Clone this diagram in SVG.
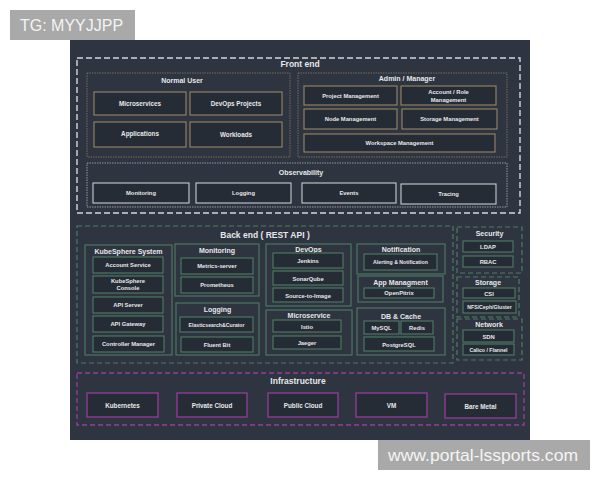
<svg xmlns="http://www.w3.org/2000/svg" width="600" height="480" viewBox="0 0 600 480">
<style>
text{font-family:"Liberation Sans",Arial,sans-serif;font-weight:bold;fill:#e6e8ea;text-anchor:middle}
.t1{font-size:8.5px}
.t2{font-size:7px}
.ti{font-size:6.3px}
.tb{font-size:5.8px}
.ts{font-size:5.2px}
.fe{fill:none;stroke:#d5d8dc;stroke-width:1.4;stroke-dasharray:6 3}
.dotT{fill:none;stroke:#8a7a62;stroke-width:0.8;stroke-dasharray:1.5 1}
.dotW{fill:none;stroke:#aeb2b8;stroke-width:0.8;stroke-dasharray:1.5 1}
.itT{fill:#262c36;stroke:#9a8667;stroke-width:1.1}
.itW{fill:#262c36;stroke:#c9ccd0;stroke-width:1.1}
.be{fill:none;stroke:#4f7d63;stroke-width:1.2;stroke-dasharray:5 3}
.grp{fill:none;stroke:#4f7d63;stroke-width:1.1}
.itG{fill:#262c36;stroke:#4f7d63;stroke-width:1.1}
.inf{fill:none;stroke:#963c9c;stroke-width:1.3;stroke-dasharray:5 3}
.itP{fill:#262c36;stroke:#963c9c;stroke-width:1.3}
.wm{fill:#a9a9a9}
.wmt{font-family:"Liberation Sans",Arial,sans-serif;font-weight:normal;fill:#f4f4f4;text-anchor:start}
</style>
<rect x="0" y="0" width="600" height="480" fill="#ffffff"/>
<rect x="70" y="40" width="460" height="400" fill="#2e3440"/>

<g id="frontend">
<rect class="fe" x="77" y="58" width="443" height="155"/>
<text class="t1" x="300" y="67">Front end</text>
</g>
<g id="normal-user">
<rect class="dotT" x="87" y="73" width="203" height="84"/>
<text class="t2" x="182" y="83">Normal User</text>
<g id="n-microservices"><rect class="itT" x="94" y="92" width="92" height="23"/><text class="ti" x="140" y="105.5">Microservices</text></g>
<g id="n-devops-projects"><rect class="itT" x="190" y="92" width="92" height="23"/><text class="ti" x="236" y="105.5">DevOps Projects</text></g>
<g id="n-applications"><rect class="itT" x="94" y="122" width="92" height="25"/><text class="ti" x="140" y="136">Applications</text></g>
<g id="n-workloads"><rect class="itT" x="190" y="122" width="92" height="25"/><text class="ti" x="236" y="137">Workloads</text></g>
</g>
<g id="admin-manager">
<rect class="dotT" x="298" y="73" width="209" height="84"/>
<text class="t2" x="407" y="81">Admin / Manager</text>
<g id="n-project-mgmt"><rect class="itT" x="304" y="86" width="93" height="19"/><text class="tb" x="350.5" y="97.5">Project Management</text></g>
<g id="n-account-role"><rect class="itT" x="401" y="86" width="95" height="19"/><text class="tb" x="448.5" y="93.5">Account / Role</text><text class="tb" x="448.5" y="101.5">Management</text></g>
<g id="n-node-mgmt"><rect class="itT" x="304" y="109" width="93" height="20"/><text class="tb" x="350.5" y="121">Node Management</text></g>
<g id="n-storage-mgmt"><rect class="itT" x="402" y="109" width="95" height="20"/><text class="tb" x="449.5" y="121">Storage Management</text></g>
<g id="n-workspace-mgmt"><rect class="itT" x="304" y="134" width="191" height="18"/><text class="tb" x="399.5" y="145">Workspace Management</text></g>
</g>
<g id="observability">
<rect class="dotW" x="87" y="163" width="420" height="44"/>
<text class="t2" x="301" y="175">Observability</text>
<g id="o-monitoring"><rect class="itW" x="93" y="183" width="96" height="20"/><text class="tb" x="141" y="195">Monitoring</text></g>
<g id="o-logging"><rect class="itW" x="196" y="183" width="95" height="20"/><text class="tb" x="243.5" y="195">Logging</text></g>
<g id="o-events"><rect class="itW" x="302" y="183" width="94" height="20"/><text class="tb" x="349" y="195">Events</text></g>
<g id="o-tracing"><rect class="itW" x="401" y="184" width="95" height="20"/><text class="tb" x="448.5" y="196">Tracing</text></g>
</g>

<g id="backend">
<rect class="be" x="77" y="226" width="376" height="137"/>
<text class="t1" x="265" y="238">Back end ( REST API )</text>
</g>
<g id="kubesphere-system">
<rect class="grp" x="85" y="245" width="87" height="110"/>
<text class="t2" x="128.5" y="254">KubeSphere System</text>
<g id="k-account"><rect class="itG" x="93" y="257" width="70" height="16"/><text class="tb" x="128" y="267">Account Service</text></g>
<g id="k-console"><rect class="itG" x="93" y="276" width="70" height="17"/><text class="tb" x="128" y="283">KubeSphere</text><text class="tb" x="128" y="290">Console</text></g>
<g id="k-apiserver"><rect class="itG" x="93" y="297" width="70" height="16"/><text class="tb" x="128" y="307">API Server</text></g>
<g id="k-apigateway"><rect class="itG" x="93" y="316" width="70" height="16"/><text class="tb" x="128" y="326">API Gateway</text></g>
<g id="k-controller"><rect class="itG" x="93" y="336" width="71" height="16"/><text class="tb" x="128.5" y="346">Controller Manager</text></g>
</g>
<g id="monitoring">
<rect class="grp" x="175" y="244" width="84" height="52"/>
<text class="t2" x="217" y="253">Monitoring</text>
<g id="m-metrics"><rect class="itG" x="181" y="258" width="72" height="16"/><text class="tb" x="217" y="268">Metrics-server</text></g>
<g id="m-prometheus"><rect class="itG" x="181" y="277" width="72" height="16"/><text class="tb" x="217" y="287">Prometheus</text></g>
</g>
<g id="logging">
<rect class="grp" x="176" y="303" width="83" height="52"/>
<text class="t2" x="217.5" y="312">Logging</text>
<g id="l-es"><rect class="itG" x="180" y="317" width="73" height="15"/><text class="ts" x="216.5" y="326.5">Elasticsearch&amp;Curator</text></g>
<g id="l-fluentbit"><rect class="itG" x="181" y="337" width="72" height="15"/><text class="tb" x="217" y="347">Fluent Bit</text></g>
</g>
<g id="devops">
<rect class="grp" x="266" y="244" width="85" height="62"/>
<text class="t2" x="308.5" y="251.5">DevOps</text>
<g id="d-jenkins"><rect class="itG" x="273" y="253" width="70" height="15"/><text class="tb" x="308" y="263">Jenkins</text></g>
<g id="d-sonar"><rect class="itG" x="273" y="271" width="70" height="14"/><text class="tb" x="308" y="280.5">SonarQube</text></g>
<g id="d-s2i"><rect class="itG" x="273" y="288" width="70" height="14"/><text class="tb" x="308" y="297.5">Source-to-Image</text></g>
</g>
<g id="microservice">
<rect class="grp" x="266" y="310" width="86" height="45"/>
<text class="t2" x="309" y="318">Microservice</text>
<g id="ms-istio"><rect class="itG" x="273" y="320" width="68" height="12"/><text class="tb" x="307" y="328.5">Istio</text></g>
<g id="ms-jaeger"><rect class="itG" x="273" y="336" width="68" height="13"/><text class="tb" x="307" y="344.5">Jaeger</text></g>
</g>
<g id="notification">
<rect class="grp" x="357" y="244" width="88" height="30"/>
<text class="t2" x="401" y="251.5">Notification</text>
<g id="nt-alerting"><rect class="itG" x="364" y="254" width="73" height="16"/><text class="ts" x="400.5" y="264">Alerting &amp; Notification</text></g>
</g>
<g id="app-managment">
<rect class="grp" x="358" y="276" width="85" height="26"/>
<text class="t2" x="400.5" y="284.5">App Managment</text>
<g id="a-openpitrix"><rect class="itG" x="364" y="288" width="70" height="10"/><text class="tb" x="399" y="295">OpenPitrix</text></g>
</g>
<g id="db-cache">
<rect class="grp" x="357" y="308" width="88" height="47"/>
<text class="t2" x="401" y="318.5">DB &amp; Cache</text>
<g id="db-mysql"><rect class="itG" x="364" y="321" width="35" height="13"/><text class="tb" x="381.5" y="329.5">MySQL</text></g>
<g id="db-redis"><rect class="itG" x="401" y="321" width="32" height="13"/><text class="tb" x="417" y="329.5">Redis</text></g>
<g id="db-postgres"><rect class="itG" x="364" y="337" width="70" height="14"/><text class="tb" x="399" y="346.5">PostgreSQL</text></g>
</g>
<g id="security">
<rect class="be" x="457" y="227" width="65" height="46"/>
<text class="t2" x="489.5" y="236">Security</text>
<g id="s-ldap"><rect class="itG" x="463" y="241" width="50" height="11"/><text class="tb" x="488" y="249">LDAP</text></g>
<g id="s-rbac"><rect class="itG" x="463" y="256" width="50" height="11"/><text class="tb" x="488" y="264">RBAC</text></g>
</g>
<g id="storage">
<rect class="be" x="457" y="277" width="62" height="40"/>
<text class="t2" x="488" y="284.5">Storage</text>
<g id="st-csi"><rect class="itG" x="463" y="288" width="52" height="10"/><text class="tb" x="489" y="295.5">CSI</text></g>
<g id="st-nfs"><rect class="itG" x="463" y="301" width="53" height="12"/><text class="ts" x="489.5" y="309">NFS/Ceph/Gluster</text></g>
</g>
<g id="network">
<rect class="be" x="457" y="319" width="65" height="41"/>
<text class="t2" x="489" y="327">Network</text>
<g id="nw-sdn"><rect class="itG" x="463" y="330" width="51" height="12"/><text class="tb" x="488.5" y="338.5">SDN</text></g>
<g id="nw-calico"><rect class="itG" x="463" y="344" width="51" height="11"/><text class="ts" x="488.5" y="351.5">Calico / Flannel</text></g>
</g>

<g id="infrastructure">
<rect class="inf" x="77" y="373" width="447" height="52"/>
<text class="t1" x="298" y="384">Infrastructure</text>
<g id="i-kubernetes"><rect class="itP" x="87" y="393" width="71" height="24"/><text class="ti" x="122.5" y="407.5">Kubernetes</text></g>
<g id="i-private"><rect class="itP" x="177" y="393" width="70" height="24"/><text class="ti" x="212" y="407.5">Private Cloud</text></g>
<g id="i-public"><rect class="itP" x="268" y="393" width="70" height="24"/><text class="ti" x="303" y="407.5">Public Cloud</text></g>
<g id="i-vm"><rect class="itP" x="356" y="393" width="71" height="24"/><text class="ti" x="391.5" y="407.5">VM</text></g>
<g id="i-baremetal"><rect class="itP" x="445" y="394" width="71" height="24"/><text class="ti" x="480.5" y="409">Bare Metal</text></g>
</g>

<g id="watermark-top">
<rect class="wm" x="10" y="10" width="125" height="30"/>
<text class="wmt" x="20" y="31" font-size="16">TG: MYYJJPP</text>
</g>
<g id="watermark-bottom">
<rect class="wm" x="378" y="440" width="212" height="30"/>
<text class="wmt" x="388" y="461" font-size="17" textLength="190" lengthAdjust="spacingAndGlyphs">www.portal-lssports.com</text>
</g>
</svg>
